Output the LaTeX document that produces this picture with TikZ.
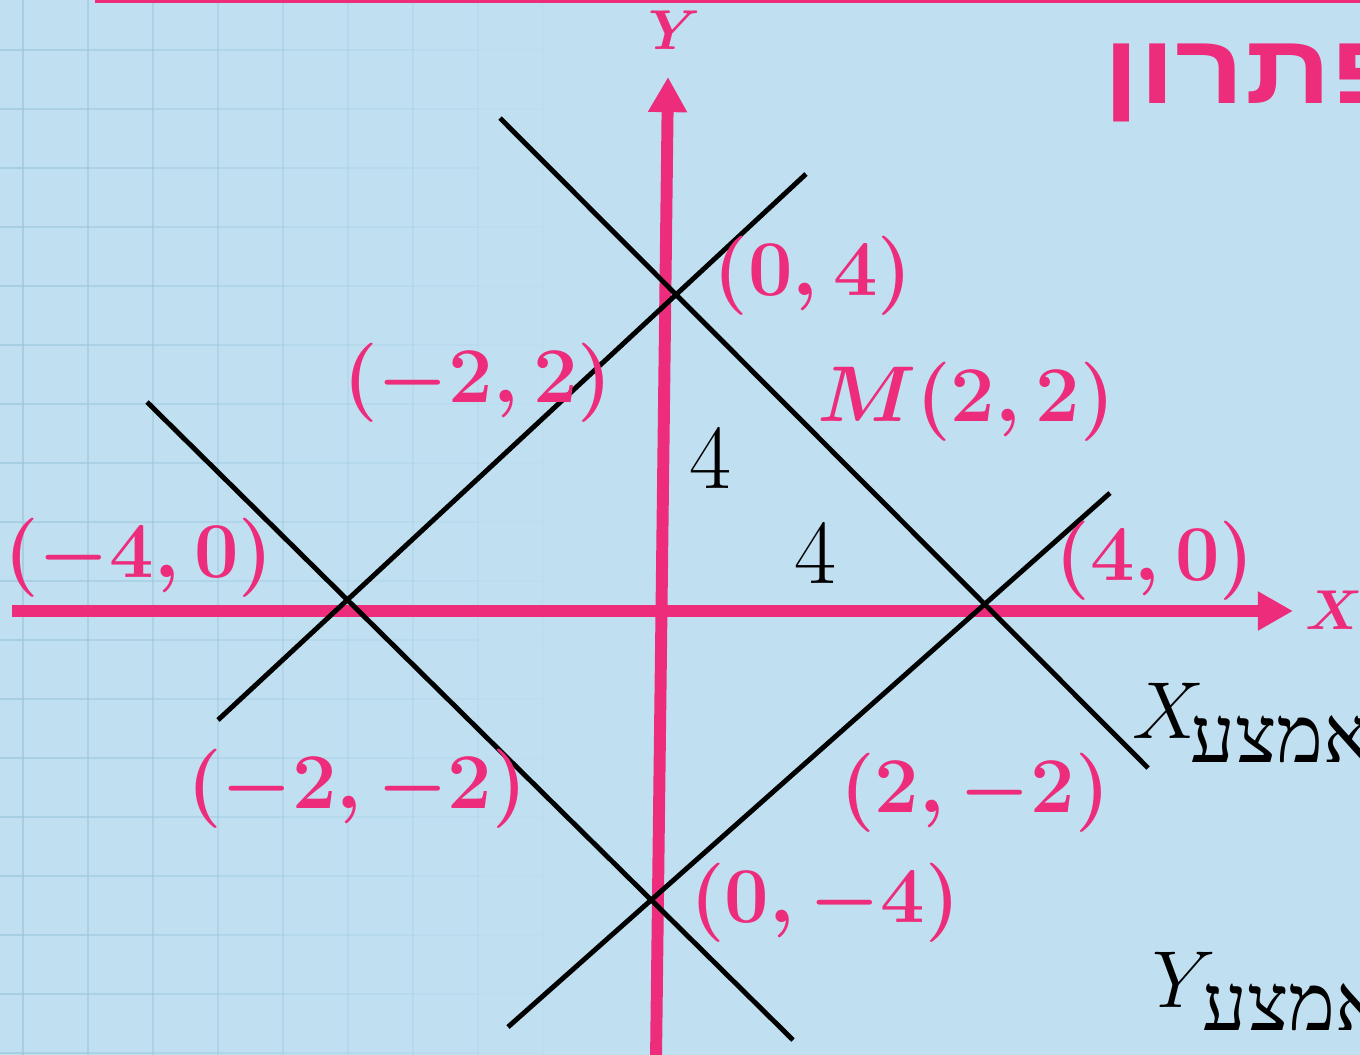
\RequirePackage{fix-cm}
\documentclass[tikz,border=0pt]{standalone}
\usepackage{fontspec}
\usetikzlibrary{arrows.meta}
\TeXXeTstate=1
\newfontfamily\hebfont[Script=Hebrew]{Liberation Serif}
\newfontfamily\hebtitle[Script=Hebrew, FakeStretch=1.22]{Liberation Sans}
\definecolor{bgcolor}{RGB}{192,224,241}
\definecolor{gridcolor}{RGB}{160,200,222}
\definecolor{pinkcolor}{RGB}{238,44,124}
\tikzset{
    axis/.style={draw=pinkcolor, line width=6.8pt, -{Triangle[length=20pt,width=21pt]}},
    diag/.style={draw=black, line width=2.8pt},
    gridline/.style={draw=gridcolor, line width=1.1pt},
    ptlabel/.style={text=pinkcolor, inner sep=0pt, font=\fontsize{45}{54}\selectfont\boldmath},
    seglabel/.style={inner sep=0pt, font=\fontsize{52}{60}\selectfont},
    axlabel/.style={text=pinkcolor, inner sep=0pt, font=\fontsize{32}{38}\selectfont\boldmath},
    hebword/.style={inner sep=0pt, anchor=base west, font=\fontsize{45}{54}\hebfont},
    midvar/.style={inner sep=0pt, anchor=base west, font=\fontsize{46}{54}\selectfont}
}

\begin{document}
\begin{tikzpicture}[x=0.02cm, y=-0.02cm]

    \useasboundingbox (0,0) rectangle (1360,1055);
    \clip (0,0) rectangle (1360,1055);
    \fill[bgcolor] (0,0) rectangle (1360,1055);

    \foreach \i in {0,...,8} {
        \pgfmathsetmacro{\op}{0.75*(1-\i/9)}
        \draw[gridline, opacity=\op] (23+65*\i,0) -- (23+65*\i,1055);
        \foreach \j in {0,...,17}
            \draw[gridline, opacity=\op] (65*\i-42,50+59*\j) -- (23+65*\i,50+59*\j);
    }

    \coordinate (topl) at (95,1);
    \coordinate (topr) at (1360,1);
    \draw[pinkcolor, line width=2.5pt] (topl) -- (topr);

    \coordinate (xstart) at (12,611);
    \coordinate (xend) at (1293,611);
    \coordinate (ystart) at (656,1060);
    \coordinate (yend) at (668,77);

    \coordinate (a1) at (500,118);  \coordinate (a2) at (1148,768);
    \coordinate (b1) at (806,174);  \coordinate (b2) at (218,720);
    \coordinate (c1) at (147,402);  \coordinate (c2) at (793,1040);
    \coordinate (d1) at (508,1027); \coordinate (d2) at (1110,493);

    \draw[axis] (xstart) -- (xend);
    \draw[axis] (ystart) -- (yend);

    \draw[diag] (a1) -- (a2);
    \draw[diag] (b1) -- (b2);
    \draw[diag] (c1) -- (c2);
    \draw[diag] (d1) -- (d2);

    \node[axlabel] (xlab) at (1334,610) {$X$};
    \node[axlabel] (ylab) at (675,30) {$Y$};

    \node[ptlabel] (pt04) at (813,276) {$(0,4)$};
    \node[ptlabel] (ptm22) at (478,383) {$(-2,2)$};
    \node[ptlabel] (ptM) at (966,402) {$M(2,2)$};
    \node[ptlabel] (ptm40) at (139,558) {$(-4,0)$};
    \node[ptlabel] (pt40) at (1155,561) {$(4,0)$};
    \node[ptlabel] (ptm2m2) at (357,789) {$(-2,-2)$};
    \node[ptlabel] (pt2m2) at (975,793) {$(2,-2)$};
    \node[ptlabel] (pt0m4) at (825,903) {$(0,-4)$};

    \node[seglabel] (lenv) at (710,458) {4};
    \node[seglabel] (lenh) at (815,553) {4};

    \node[inner sep=0pt, anchor=base west, text=pinkcolor, font=\fontsize{56}{64}\hebtitle\bfseries] (title) at (1103,103) {\beginR פתרון\endR};

    \node[midvar] (xmid) at (1132,738) {$X$};
    \node[hebword] (hebx) at (1190,762) {\beginR אמצע\endR};
    \node[midvar] (ymid) at (1152,1007) {$Y$};
    \node[hebword] (heby) at (1202,1030) {\beginR אמצע\endR};

\end{tikzpicture}
\end{document}
